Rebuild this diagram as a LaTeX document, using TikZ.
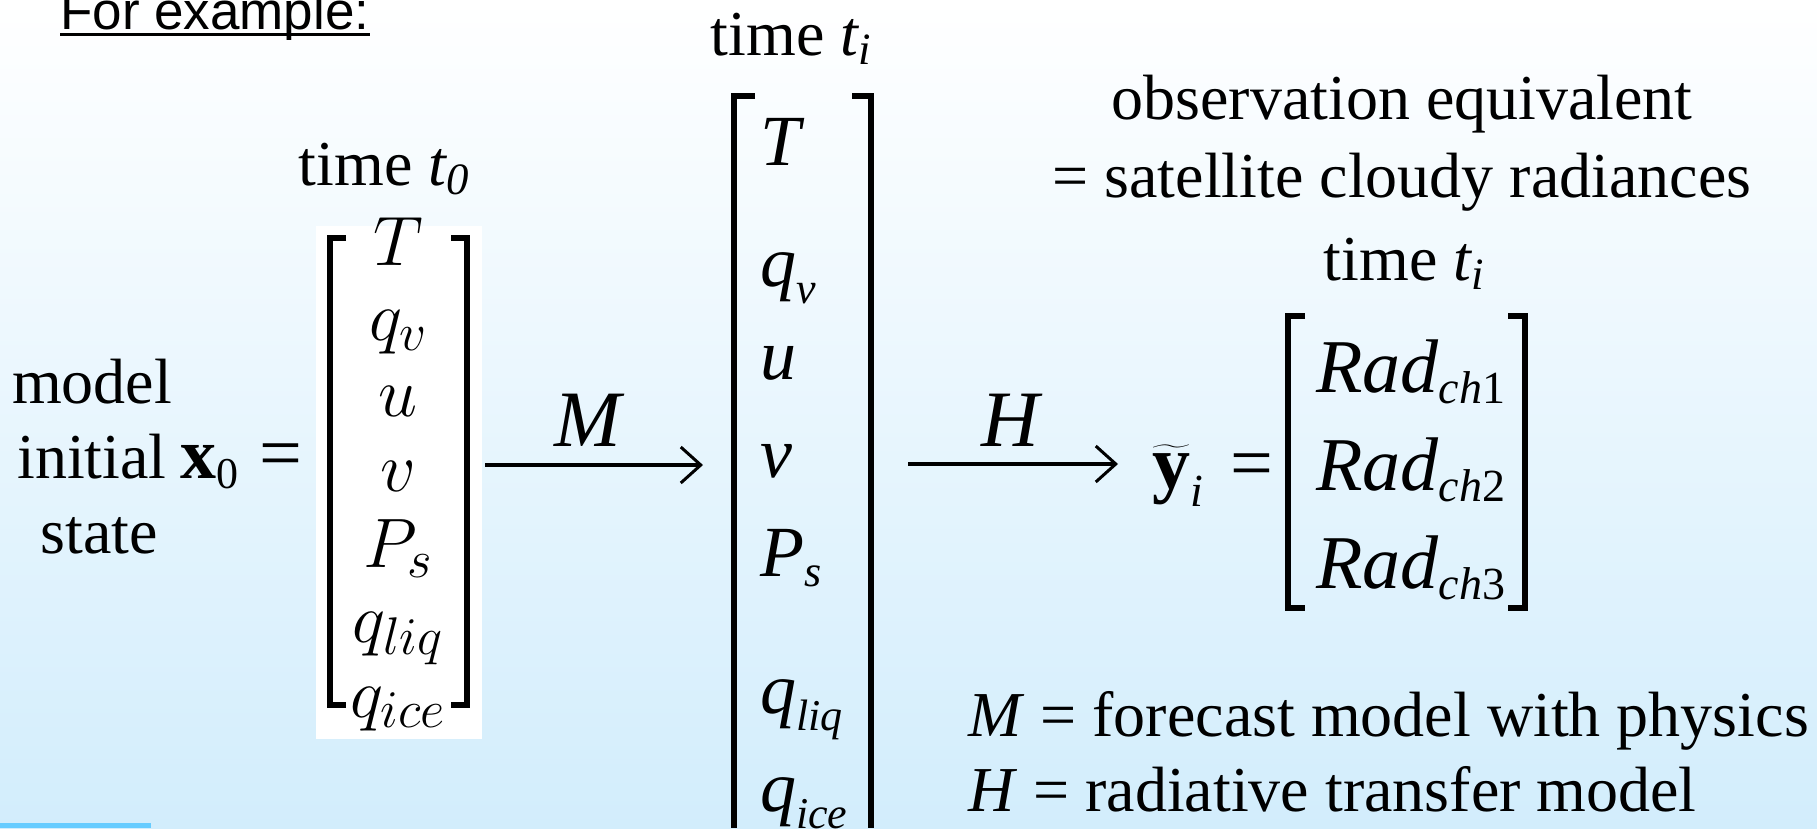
\RequirePackage{fix-cm}
\documentclass[tikz,border=0pt]{standalone}
\usepackage{amsmath}
\usepackage{fontspec}
\setmainfont{Liberation Serif}
\newfontfamily\arialfont{Liberation Sans}
\usetikzlibrary{positioning,arrows.meta}
\definecolor{skyband}{RGB}{102,204,255}
\definecolor{paleblue}{RGB}{210,237,252}
\DeclareMathSizes{70}{70}{53}{40}
\DeclareMathSizes{72}{72}{44}{34}
\DeclareMathSizes{76}{76}{46}{34}

\begin{document}
\begin{tikzpicture}[x=1pt, y=-1pt,
  txt/.style={inner sep=0pt, anchor=base, font=\fontsize{64}{75}\selectfont},
  lft/.style={txt, anchor=base west},
  vecA/.style={txt, font=\fontsize{70}{80}\selectfont},
  vecB/.style={lft, font=\fontsize{72}{82}\selectfont},
  vecC/.style={lft, font=\fontsize{76}{86}\selectfont},
  oplab/.style={txt, font=\fontsize{80}{90}\selectfont},
  brk/.style={line width=5.5pt},
  arr/.style={line width=4.5pt, -{Straight Barb[length=20pt,width=36pt,line width=3pt]}}
]
% background
\shade[top color=white, bottom color=paleblue] (0,0) rectangle (1817,828);
\useasboundingbox (0,0) rectangle (1817,828);
\fill[skyband] (0,823) rectangle (151,828);

\node[lft, font=\arialfont\fontsize{53}{60}\selectfont] (forex) at (60,29) {For example:};
\draw[line width=3pt] ([yshift=-5pt]forex.base west) -- ([yshift=-5pt]forex.base east);

% initial state
\node[txt] (model)   at (92,403) {model};
\node[txt] (initial) at (92,478) {initial};
\node[txt] (state)   at (99,553) {state};
\node[vecB] (xzero)  at (180,478) {$\textbf{x}_{\text{0}}$};
\node[vecC] (eqa)    at (259,478) {=};

\node[txt] (tzero) at (384,185) {time $\textit{t}_{\textit{0}}$};
\fill[white] (316,226) rectangle (482,739);
\draw[brk, line width=6pt] (346,238) -- (330,238) -- (330,705) -- (346,705);
\draw[brk, line width=6pt] (451,238) -- (467,238) -- (467,705) -- (451,705);
\node[vecA] (a1) at (398,265) {$T$};
\node[vecA] (a2) at (398,340) {$q_v$};
\node[vecA] (a3) at (398,416) {$u$};
\node[vecA] (a4) at (398,491) {$v$};
\node[vecA] (a5) at (398,567) {$P_s$};
\node[vecA] (a6) at (398,642) {$q_{liq}$};
\node[vecA] (a7) at (398,717) {$q_{ice}$};

% forecast model
\coordinate (m0) at (485,465);
\coordinate (m1) at (703,465);
\draw[arr] (m0) -- (m1);
\node[oplab] (mlab) at (590,446) {\textit{M}};

% state at t_i
\node[txt] (tione) at (791,55) {time $\textit{t}_{\textit{i}}$};
\draw[brk] (755,96) -- (734,96) -- (734,828);
\draw[brk] (852,96) -- (871,96) -- (871,828);
\node[vecB] (b1) at (760,165) {$\textit{T}$};
\node[vecB] (b2) at (760,286) {$\textit{q}_{\textit{v}}$};
\node[vecB] (b3) at (760,379) {$\textit{u}$};
\node[vecB] (b4) at (760,477) {$\textit{v}$};
\node[vecB] (b5) at (760,576) {$\textit{P}_{\textit{s}}$};
\node[vecB] (b6) at (760,713) {$\textit{q}_{\textit{liq}}$};
\node[vecB] (b7) at (760,811) {$\textit{q}_{\textit{ice}}$};

% observation operator
\coordinate (h0) at (908,464);
\coordinate (h1) at (1118,464);
\draw[arr] (h0) -- (h1);
\node[oplab] (hlab) at (1012,446) {\textit{H}};

\node[txt] (obs1) at (1402,119) {observation equivalent};
\node[txt] (obs2) at (1402,197) {= satellite cloudy radiances};
\node[txt] (titwo) at (1404,280) {time $\textit{t}_{\textit{i}}$};
\node[vecC] (ytil) at (1152,488) {$\widetilde{\textbf{y}}_{\textit{i}}$};
\node[vecC] (eqc)  at (1230,488) {=};
\draw[brk] (1305,316) -- (1288,316) -- (1288,608) -- (1305,608);
\draw[brk] (1508,316) -- (1525,316) -- (1525,608) -- (1508,608);
\node[vecC] (c1) at (1316,392) {$\textit{Rad}_{\textit{ch}\text{1}}$};
\node[vecC] (c2) at (1316,490) {$\textit{Rad}_{\textit{ch}\text{2}}$};
\node[vecC] (c3) at (1316,588) {$\textit{Rad}_{\textit{ch}\text{3}}$};

% legend
\node[lft] (legm) at (968,736) {\textit{M} = forecast model with physics};
\node[lft] (legh) at (968,811) {\textit{H} = radiative transfer model};
\end{tikzpicture}
\end{document}
